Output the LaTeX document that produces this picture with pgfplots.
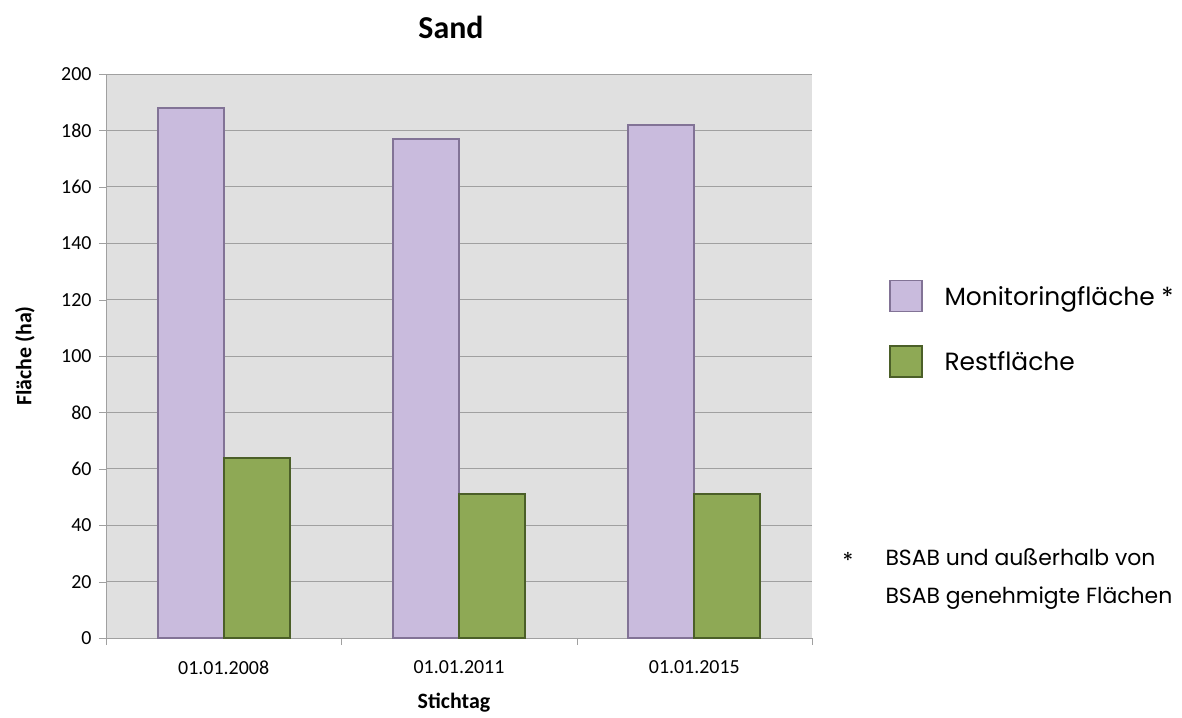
\documentclass[border=0pt]{standalone}
\usepackage{fontspec}
\setmainfont{Carlito}
\newfontfamily\legfont{Poppins}
\usepackage{pgfplots}
\pgfplotsset{compat=1.18}
\definecolor{monfill}{RGB}{201,187,221}
\definecolor{mondraw}{RGB}{130,115,150}
\definecolor{restfill}{RGB}{142,169,85}
\definecolor{restdraw}{RGB}{75,95,40}
\definecolor{bg}{RGB}{224,224,224}
\definecolor{gridc}{RGB}{160,160,160}
\begin{document}
\begin{tikzpicture}
\path[use as bounding box] (0,0) rectangle (1182bp,-718bp);
\begin{axis}[
  at={(106bp,-638bp)}, anchor=south west,
  scale only axis, width=706bp, height=564bp,
  ybar=0pt, bar width=66bp,
  xmin=-0.5, xmax=2.5, ymin=0, ymax=200,
  xtick={0,1,2},
  xticklabels={01.01.2008,01.01.2011,01.01.2015},
  minor xtick={-0.5,0.5,1.5,2.5},
  ytick={0,20,...,200},
  tick align=outside,
  major tick length=7bp, minor tick length=7bp,
  major x tick style={draw=none},
  minor x tick style={draw=gridc},
  y tick style={draw=gridc},
  axis x line*=bottom, axis y line*=left,
  axis line style={draw=gridc, line width=1pt, -},
  ymajorgrids, grid style={draw=gridc, line width=1pt},
  axis background/.style={fill=bg},
  tick label style={font=\fontsize{20}{24}\selectfont, text=black},
  xticklabel style={yshift=-12bp},
  yticklabel style={xshift=-4bp},
  /pgf/number format/assume math mode=true,
  legend image code/.code={\draw[#1, line width=1.2pt] (0bp,-15.5bp) rectangle (32bp,15.5bp);},
  legend cell align=left,
  legend style={at={(1.105,0.548)}, anchor=west, draw=none, fill=none,
    font=\legfont\fontsize{25}{30}\selectfont,
    row sep=33bp,
    nodes={inner sep=0pt},
    /tikz/every odd column/.append style={column sep=22bp}},
]
\addplot[fill=monfill, draw=mondraw, line width=2pt] coordinates {(0,188) (1,177) (2,182)};
\addplot[fill=restfill, draw=restdraw, line width=2pt] coordinates {(0,64) (1,51) (2,51)};
\legend{Monitoringfläche *, Restfläche}
\end{axis}
\node[font=\bfseries\fontsize{32}{36}\selectfont] at (451bp,-27bp) {Sand};
\node[font=\bfseries\fontsize{22}{26}\selectfont] at (454bp,-703bp) {Stichtag};
\node[font=\bfseries\fontsize{22}{26}\selectfont, rotate=90] at (25bp,-356bp) {Fläche (ha)};
\node[font=\legfont\fontsize{22}{26}\selectfont] at (848bp,-560bp) {*};
\node[font=\legfont\fontsize{22}{38}\selectfont, anchor=west, align=left] at (882bp,-579bp) {BSAB und außerhalb von\\BSAB genehmigte Flächen};
\end{tikzpicture}
\end{document}
